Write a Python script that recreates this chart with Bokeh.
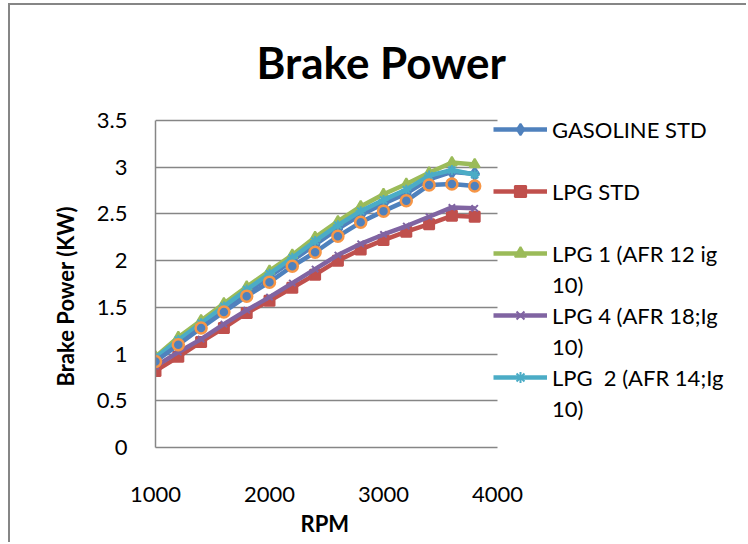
from bokeh.embed import file_html
from bokeh.models import FixedTicker, Legend, LegendItem, Range1d, Title
from bokeh.plotting import figure
from bokeh.resources import INLINE

# ---- data -----------------------------------------------------------------
rpm = [1000, 1200, 1400, 1600, 1800, 2000, 2200, 2400,
       2600, 2800, 3000, 3200, 3400, 3600, 3800]

gasoline_std = [0.95, 1.13, 1.31, 1.49, 1.66, 1.83, 2.00, 2.17,
                2.34, 2.49, 2.61, 2.72, 2.87, 2.95, 2.93]
lpg_std = [0.82, 0.97, 1.13, 1.28, 1.44, 1.57, 1.71, 1.85,
           2.00, 2.12, 2.22, 2.31, 2.39, 2.48, 2.47]
lpg_1 = [0.97, 1.18, 1.36, 1.54, 1.72, 1.89, 2.06, 2.25,
         2.42, 2.58, 2.71, 2.82, 2.94, 3.05, 3.03]
lpg_4 = [0.87, 1.02, 1.16, 1.32, 1.47, 1.61, 1.76, 1.91,
         2.06, 2.18, 2.28, 2.37, 2.47, 2.57, 2.56]
lpg_2 = [0.96, 1.15, 1.33, 1.51, 1.69, 1.86, 2.03, 2.21,
         2.38, 2.53, 2.65, 2.76, 2.91, 2.97, 2.92]
lpg_3 = [0.92, 1.10, 1.28, 1.45, 1.62, 1.77, 1.94, 2.09,
         2.26, 2.41, 2.53, 2.64, 2.81, 2.82, 2.80]

# legend text, one entry per legend line ("" = empty line)
legend_lines = ["GASOLINE STD", "", "LPG STD", "",
                "LPG 1 (AFR 12 ig", "10)",
                "LPG 4 (AFR 18;Ig", "10)",
                "LPG  2 (AFR 14;Ig", "10)"]
series_labels = {"GASOLINE STD": 0, "LPG STD": 1, "LPG 1 (AFR 12 ig": 2,
                 "LPG 4 (AFR 18;Ig": 3, "LPG  2 (AFR 14;Ig": 4}

x_ticks = [1000, 2000, 3000, 4000]
y_ticks = [0, 0.5, 1, 1.5, 2, 2.5, 3, 3.5]
y_tick_labels = ["0", "0.5", "1", "1.5", "2", "2.5", "3", "3.5"]

# ---- layout ---------------------------------------------------------------
W, H = 738, 539
F_LEFT, F_BOTTOM = 145, 442
AXIS_TOP, AXIS_RIGHT = 115, 487   # screen positions of 3.5 kW and 4000 rpm
F_TOP = 107                        # a little headroom for the legend
X0, X1 = 1000, 4000
Y0, Y1 = 0, 3.5
# frame runs to the right edge so the legend can live inside it
X_END = X0 + (W - F_LEFT) * (X1 - X0) / (AXIS_RIGHT - F_LEFT)
Y_END = Y0 + (F_BOTTOM - F_TOP) * (Y1 - Y0) / (F_BOTTOM - AXIS_TOP)

FONT = "Lato"
GRID = "#868686"
TXT = "22px"

p = figure(width=W, height=H, output_backend="svg", toolbar_location=None,
           x_range=Range1d(X0, X_END), y_range=Range1d(Y0, Y_END),
           min_border_left=F_LEFT, min_border_right=0,
           min_border_top=F_TOP, min_border_bottom=H - F_BOTTOM,
           title="Brake Power")
p.styles = {"margin-left": "8px", "margin-top": "3px",
            "border-left": f"2px solid {GRID}",
            "border-top": f"2px solid {GRID}"}
p.outline_line_color = None
p.background_fill_color = "white"
p.border_fill_color = "white"

p.title.text_font = FONT
p.title.text_font_size = "44px"
p.title.text_font_style = "bold"
p.title.text_color = "black"
p.title.align = "left"
p.title.offset = 101
p.title.standoff = 49

p.xgrid.visible = False
p.ygrid.ticker = FixedTicker(ticks=y_ticks)
p.ygrid.cross_bounds = (X0, X1)
p.ygrid.grid_line_color = GRID
p.ygrid.grid_line_width = 1.5

for ax in (p.xaxis[0], p.yaxis[0]):
    ax.axis_line_color = GRID
    ax.axis_line_width = 1.5
    ax.major_tick_line_color = None
    ax.minor_tick_line_color = None
    ax.major_label_text_font = FONT
    ax.major_label_text_font_size = TXT
    ax.major_label_text_color = "black"

p.xaxis.ticker = FixedTicker(ticks=x_ticks)
p.xaxis.bounds = (X0, X1)
p.xaxis.major_label_standoff = 33

p.yaxis.ticker = FixedTicker(ticks=y_ticks)
p.yaxis.bounds = (Y0, Y1)
p.yaxis.major_label_overrides = {t: s for t, s in zip(y_ticks, y_tick_labels)}
p.yaxis.major_label_standoff = 22

# axis titles, placed beside the axes
p.add_layout(Title(text="RPM", text_font=FONT, text_font_size=TXT,
                   text_font_style="bold", text_color="black",
                   align="left", offset=325 - 15 - F_LEFT - 20,
                   vertical_align="top", standoff=11), "below")
p.add_layout(Title(text="Brake Power (KW)", text_font=FONT,
                   text_font_size=TXT, text_font_style="bold",
                   text_color="black", align="left", offset=61,
                   standoff=30), "left")

# ---- series ---------------------------------------------------------------
styles = [
    (gasoline_std, "#4F81BD", "diamond", 13),
    (lpg_std, "#C0504D", "square", 10),
    (lpg_1, "#9BBB59", "triangle", 10),
    (lpg_4, "#8064A2", "x", 9),
    (lpg_2, "#4BACC6", "asterisk", 10),
]

series_renderers = []
for ys, color, marker, size in styles:
    ln = p.line(rpm, ys, line_color=color, line_width=4.5)
    mk = p.scatter(rpm, ys, marker=marker, size=size, fill_color=color,
                   line_color=color, line_width=2)
    series_renderers.append([ln, mk])

p.line(rpm, lpg_3, line_color="#4F81BD", line_width=4.5)
p.scatter(rpm, lpg_3, marker="circle", size=11, fill_color="#4F81BD",
          line_color="#F79646", line_width=2.5)

# wrapped / empty legend lines carry an invisible glyph
blank = p.line([], [], line_alpha=0)

items = []
for text in legend_lines:
    if text in series_labels:
        items.append(LegendItem(label=text,
                                renderers=series_renderers[series_labels[text]]))
    else:
        items.append(LegendItem(label=text if text else " ", renderers=[blank]))

LEG_ROW, LEG_GAP = 28, 3
leg_height = len(items) * LEG_ROW + (len(items) - 1) * LEG_GAP
leg_top = 124 - LEG_ROW / 2
legend = Legend(items=items,
                location=(483 - F_LEFT, F_BOTTOM - (leg_top + leg_height)),
                border_line_color=None, background_fill_alpha=0,
                padding=0, margin=0, spacing=LEG_GAP,
                glyph_width=54, glyph_height=LEG_ROW, label_height=LEG_ROW,
                label_standoff=5, label_text_font=FONT,
                label_text_font_size=TXT, label_text_color="black")
p.add_layout(legend)

open("out.html", "w").write(file_html(p, INLINE))
